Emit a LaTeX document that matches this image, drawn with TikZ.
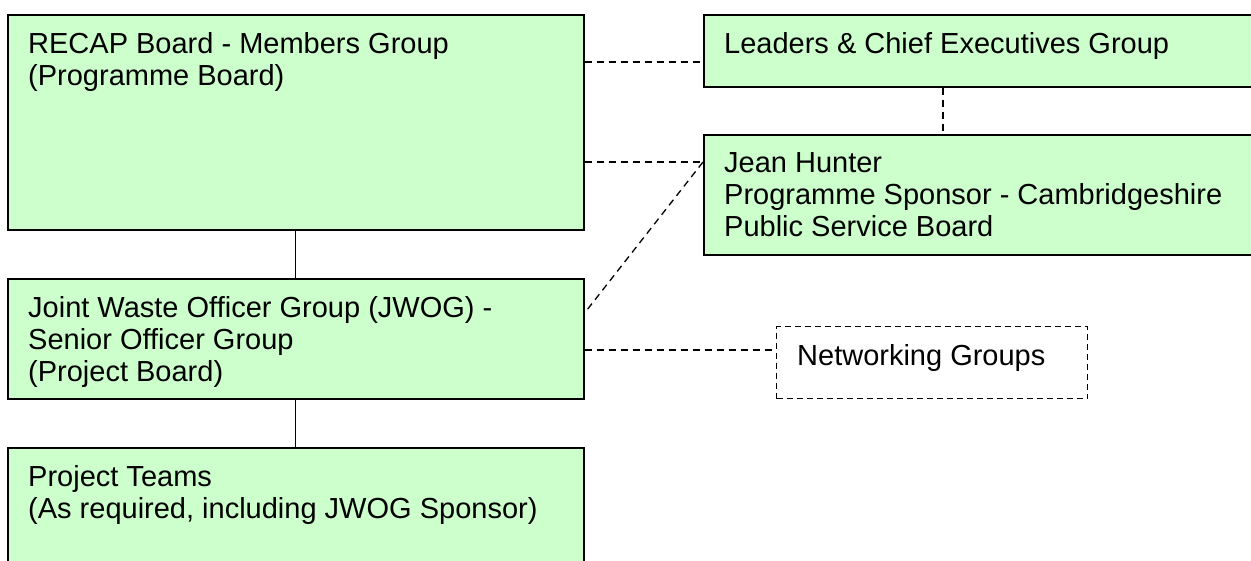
\documentclass[tikz,border=0pt]{standalone}
\usepackage{fontspec}
\setmainfont{Liberation Sans}
\usepackage{xcolor}
\usetikzlibrary{positioning,calc}
\definecolor{palegreen}{RGB}{204, 255, 204}

\begin{document}
\begin{tikzpicture}[x=1pt,y=-1pt,
                grp box/.style={rectangle,draw,fill=palegreen,line width=1.6pt,anchor=north west},
                net box/.style={rectangle,draw,fill=white,line width=1.3pt,dash pattern=on 6pt off 4pt,anchor=north west},
                grp text/.style={anchor=north west,align=left,inner xsep=21pt,inner ysep=18pt,
                                 font=\fontsize{29}{32}\selectfont},
                link/.style={line width=1.3pt},
                loose link/.style={line width=1.3pt,dash pattern=on 7pt off 5pt}]
    \useasboundingbox (0,0) rectangle (1251,561);
%Nodes
    \node[grp box, minimum width=576pt, minimum height=215pt] (recap) at (7,14)
        [label={[grp text]north west:{RECAP Board - Members Group\\(Programme Board)}}] {};
    \node[grp box, minimum width=560pt, minimum height=72pt] (leaders) at (703,14)
        [label={[grp text]north west:{Leaders \& Chief Executives Group}}] {};
    \node[grp box, minimum width=560pt, minimum height=120pt] (jean) at (703,134)
        [label={[grp text]north west:{Jean Hunter\\Programme Sponsor - Cambridgeshire\\Public Service Board}}] {};
    \node[grp box, minimum width=576pt, minimum height=120pt] (jwog) at (7,278)
        [label={[grp text]north west:{Joint Waste Officer Group (JWOG) -\\Senior Officer Group\\(Project Board)}}] {};
    \node[grp box, minimum width=576pt, minimum height=125pt] (teams) at (7,447)
        [label={[grp text]north west:{Project Teams\\(As required, including JWOG Sponsor)}}] {};
    \node[net box, minimum width=311pt, minimum height=72pt] (network) at (776,326)
        [label={[grp text]north west:{Networking Groups}}] {};

%Connectors
    \coordinate (leaders in) at ($(recap.north east)+(0,48)$);
    \coordinate (jean in) at ($(jean.north west)+(0,28)$);
    \coordinate (jwog out) at ($(jwog.north east)+(0,35)$);
    \coordinate (net in) at ($(jwog.north east)+(0,72)$);
    \coordinate (leaders down) at ($(leaders.south west)+(240,0)$);

    \draw[link] (recap.south) -- (jwog.north);
    \draw[link] (jwog.south) -- (teams.north);
    \draw[loose link] (leaders in) -- (leaders in -| leaders.west);
    \draw[loose link] (jean in -| recap.east) -- (jean in);
    \draw[loose link] (jean in) -- (jwog out);
    \draw[loose link] (net in) -- (net in -| network.west);
    \draw[loose link] (leaders down) -- (leaders down |- jean.north);
\end{tikzpicture}
\end{document}
